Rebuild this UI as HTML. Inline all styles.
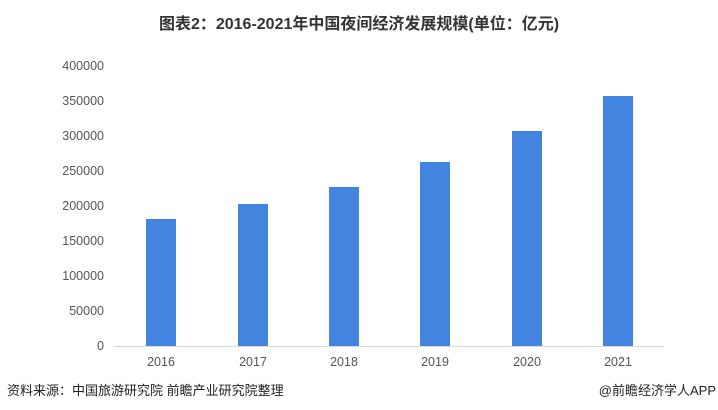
<!DOCTYPE html>
<html><head><meta charset="utf-8"><style>
body{margin:0;width:718px;height:410px;background:#fff;position:relative;overflow:hidden;font-family:"Liberation Sans","Noto Sans CJK SC",sans-serif}
.t{position:absolute;left:0;width:718px;top:10px;text-align:center;font-size:16px;font-weight:bold;color:#333}
.y{position:absolute;right:614px;font-size:12.5px;color:#555;line-height:14px}
.b{position:absolute;width:30px;background:#4285e0;bottom:64px}
.x{position:absolute;top:355px;width:60px;text-align:center;font-size:12.5px;color:#555}
.ax{position:absolute;left:114px;width:550px;top:346px;height:1px;background:#d9d9d9}
.f{position:absolute;top:380px;font-size:13px;color:#222}
</style></head><body>
<div class="t">图表2：2016-2021年中国夜间经济发展规模(单位：亿元)</div>
<div class="y" style="top:59px">400000</div>
<div class="y" style="top:94px">350000</div>
<div class="y" style="top:129px">300000</div>
<div class="y" style="top:164px">250000</div>
<div class="y" style="top:199px">200000</div>
<div class="y" style="top:234px">150000</div>
<div class="y" style="top:269px">100000</div>
<div class="y" style="top:304px">50000</div>
<div class="y" style="top:339px">0</div>
<div class="ax"></div>
<div class="b" style="left:146px;height:127px"></div>
<div class="b" style="left:238px;height:142px"></div>
<div class="b" style="left:329px;height:159px"></div>
<div class="b" style="left:420px;height:184px"></div>
<div class="b" style="left:512px;height:215px"></div>
<div class="b" style="left:603px;height:250px"></div>
<div class="x" style="left:131px">2016</div>
<div class="x" style="left:223px">2017</div>
<div class="x" style="left:314px">2018</div>
<div class="x" style="left:405px">2019</div>
<div class="x" style="left:497px">2020</div>
<div class="x" style="left:588px">2021</div>
<div class="f" style="left:7px">资料来源：中国旅游研究院 前瞻产业研究院整理</div>
<div class="f" style="right:2px">@前瞻经济学人APP</div>
</body></html>
